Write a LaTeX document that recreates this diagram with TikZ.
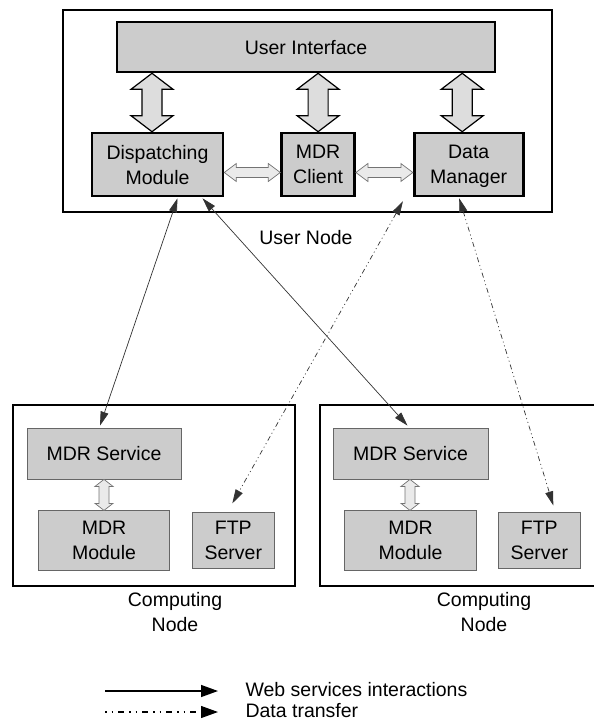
\documentclass[tikz,border=0pt]{standalone}
\usepackage{fontspec}
\setmainfont{Liberation Sans}
\usetikzlibrary{arrows.meta,positioning,calc}
\definecolor{boxgray}{RGB}{204,204,204}
\definecolor{arrgray}{RGB}{221,221,221}
\definecolor{arrlight}{RGB}{234,234,234}
\definecolor{wiregray}{RGB}{50,50,50}

% block arrows: (top/left), (bottom/right), half shaft, half head, head length, style
\newcommand{\vblock}[6]{%
  \draw[#6] let \p1=(#1),\p2=(#2) in
    (\x2,\y1) -- (\x2+#4,\y1-#5) -- (\x2+#3,\y1-#5) -- (\x2+#3,\y2+#5)
    -- (\x2+#4,\y2+#5) -- (\x2,\y2) -- (\x2-#4,\y2+#5) -- (\x2-#3,\y2+#5)
    -- (\x2-#3,\y1-#5) -- (\x2-#4,\y1-#5) -- cycle;}
\newcommand{\hblock}[6]{%
  \draw[#6] let \p1=(#1),\p2=(#2) in
    (\x1,\y1) -- (\x1+#5,\y1+#4) -- (\x1+#5,\y1+#3) -- (\x2-#5,\y1+#3)
    -- (\x2-#5,\y1+#4) -- (\x2,\y1) -- (\x2-#5,\y1-#4) -- (\x2-#5,\y1-#3)
    -- (\x1+#5,\y1-#3) -- (\x1+#5,\y1-#4) -- cycle;}

\begin{document}
\begin{tikzpicture}[
  x=1pt,y=-1pt,
  font=\fontsize{19.5}{25}\selectfont,
  frame/.style={draw,line width=2.6pt,minimum height=181pt},
  mainbox/.style={draw,line width=2.6pt,fill=boxgray,align=center,
                  inner sep=2pt,minimum height=63pt,text depth=0pt},
  subbox/.style={draw=black!60,line width=0.8pt,fill=boxgray,align=center,
                 inner sep=2pt},
  bigarr/.style={draw=black,line width=1.2pt,fill=arrgray},
  smallarr/.style={draw=black!55,line width=0.7pt,fill=arrlight},
  web/.style={{Triangle[length=14pt,width=8pt]}-{Triangle[length=14pt,width=8pt]},
              wiregray,line width=0.7pt},
  xfer/.style={web,dash pattern=on 5pt off 3pt on 1pt off 3pt on 1pt off 3pt}
]
\useasboundingbox (0,0) rectangle (594,723);

\node[draw,line width=2.6pt,minimum width=489pt,minimum height=202pt] (usr) at (307.5,111) {};
\node[mainbox,minimum width=378pt,minimum height=50pt] (ui) at (306,47) {User Interface};
\node[mainbox,minimum width=131pt] (dm) at (157.5,164.5) {Dispatching\\Module};
\node[mainbox,minimum width=73pt,right=56pt of dm] (cli) {MDR\\Client};
\node[mainbox,minimum width=109pt,right=57pt of cli] (dmgr) {Data\\Manager};
\node (usrlbl) at (306,238) {User Node};

\node[frame,minimum width=282pt] (cmpa) at (154,495.5) {};
\node[frame,minimum width=290pt] (cmpb) at (465,495.5) {};
\node[subbox,minimum width=154pt,minimum height=51pt] (sva) at (104,453.5) {MDR Service};
\node[subbox,minimum width=131pt,minimum height=60pt,below=31pt of sva] (mda) {MDR\\Module};
\node[subbox,minimum width=82pt,minimum height=56pt,right=22pt of mda] (ftpa) {FTP\\Server};
\node[subbox,minimum width=155pt,minimum height=51pt] (svb) at (410.5,453.5) {MDR Service};
\node[subbox,minimum width=132pt,minimum height=60pt,below=31pt of svb] (mdb) {MDR\\Module};
\node[subbox,minimum width=82pt,minimum height=56pt,right=21pt of mdb] (ftpb) {FTP\\Server};
\node[align=center] (cmpalbl) at (175,612) {Computing\\Node};
\node[align=center] (cmpblbl) at (484,612) {Computing\\Node};

\vblock{ui.south}{[xshift=-5.5pt]dm.north}{10pt}{21pt}{16pt}{bigarr}
\vblock{ui.south}{cli.north}{10pt}{21pt}{16pt}{bigarr}
\vblock{ui.south}{[xshift=-6.5pt]dmgr.north}{10pt}{21pt}{16pt}{bigarr}
\hblock{[yshift=-8pt]dm.east}{[yshift=-8pt]cli.west}{5pt}{9pt}{12pt}{smallarr}
\hblock{[yshift=-8pt]cli.east}{[yshift=-8pt]dmgr.west}{5pt}{9pt}{12pt}{smallarr}
\vblock{sva.south}{mda.north}{5pt}{9pt}{7pt}{smallarr}
\vblock{svb.south}{[xshift=-0.5pt]mdb.north}{5pt}{9pt}{7pt}{smallarr}

\draw[web] ([xshift=20pt,yshift=-1pt]dm.south) -- ([xshift=-4pt,yshift=2pt]sva.north);
\draw[web] ([xshift=45pt,yshift=-1pt]dm.south) -- ([xshift=-3pt,yshift=2pt]svb.north);
\draw[xfer] ([xshift=-10pt,yshift=-4pt]dmgr.south west) -- ([xshift=-1pt,yshift=9pt]ftpa.north);
\draw[xfer] ([xshift=-9.5pt,yshift=-1pt]dmgr.south) -- ([xshift=14pt,yshift=7pt]ftpb.north);

\coordinate (wsa) at (105,691);
\coordinate (wsb) at (218,691);
\coordinate (dta) at (105,712);
\coordinate (dtb) at (218,712);
\draw[-{Triangle[length=17pt,width=12pt]},line width=1.4pt] (wsa) -- (wsb);
\draw[-{Triangle[length=17pt,width=12pt]},line width=1.2pt,
      dash pattern=on 1.5pt off 5pt on 1.5pt off 5pt on 6pt off 5pt] (dta) -- (dtb);
\node[anchor=west] (wslbl) at (242,690) {Web services interactions};
\node[anchor=west] (dtlbl) at (242,711) {Data transfer};
\end{tikzpicture}
\end{document}
